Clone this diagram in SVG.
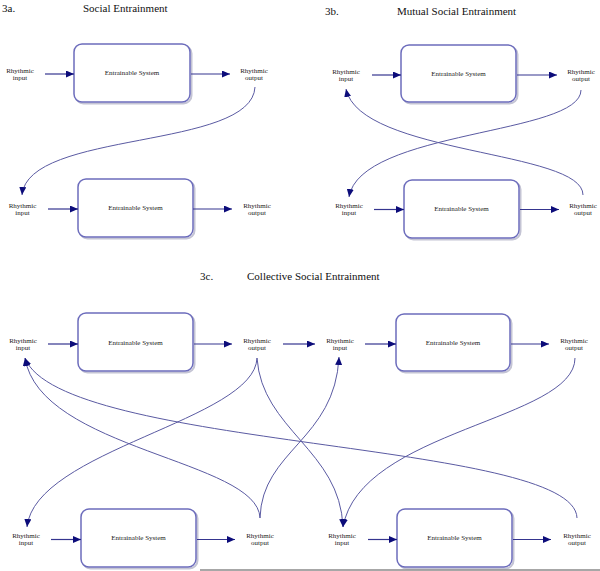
<svg xmlns="http://www.w3.org/2000/svg" width="600" height="571" viewBox="0 0 600 571">
<defs>
<marker id="ah" viewBox="0 0 8 7" refX="8" refY="3.5" markerWidth="8" markerHeight="7" markerUnits="userSpaceOnUse" orient="auto">
<path d="M0,0 L8,3.5 L0,7 z" fill="#0c0c7a"/>
</marker>
</defs>
<style>
.title{font-family:"Liberation Serif","Times New Roman",serif;font-size:11px;fill:#111}
.lbl{font-family:"Liberation Serif","Times New Roman",serif;font-size:7px;fill:#222;text-anchor:middle}
.box{fill:#fff;stroke:#6c6cbc;stroke-width:1.5}
.shadow{fill:none;stroke:#c4c4d4;stroke-width:2}
.arr{stroke:#35358f;stroke-width:1.2;fill:none;marker-end:url(#ah)}
.crv{stroke:#5a5aa2;stroke-width:1;fill:none;marker-end:url(#ah)}
</style>
<rect width="600" height="571" fill="#fff"/>
<g id="titles">
<text class="title" x="2" y="12">3a.</text>
<text class="title" x="83" y="12">Social Entrainment</text>
<text class="title" x="325" y="15">3b.</text>
<text class="title" x="397" y="15">Mutual Social Entrainment</text>
<text class="title" x="200" y="280">3c.</text>
<text class="title" x="247" y="280">Collective Social Entrainment</text>
</g>
<!-- 3a -->
<g id="a1-in"><text class="lbl" x="20" y="72.5">Rhythmic</text><text class="lbl" x="20" y="79.5">input</text></g>
<g id="a1-sys"><rect class="shadow" x="75.5" y="45.5" width="116" height="58" rx="8"/><rect class="box" x="74" y="44" width="116" height="58" rx="8"/><text class="lbl" x="132" y="75">Entrainable System</text></g>
<g id="a1-out"><text class="lbl" x="254" y="72.5">Rhythmic</text><text class="lbl" x="254" y="79.5">output</text></g>
<g id="a2-in"><text class="lbl" x="22.5" y="207.5">Rhythmic</text><text class="lbl" x="22.5" y="214.5">input</text></g>
<g id="a2-sys"><rect class="shadow" x="79.5" y="180.5" width="115" height="58" rx="8"/><rect class="box" x="78" y="179" width="115" height="58" rx="8"/><text class="lbl" x="135.5" y="210">Entrainable System</text></g>
<g id="a2-out"><text class="lbl" x="257" y="207.5">Rhythmic</text><text class="lbl" x="257" y="214.5">output</text></g>
<!-- 3b -->
<g id="b1-in"><text class="lbl" x="346" y="73.5">Rhythmic</text><text class="lbl" x="346" y="80.5">input</text></g>
<g id="b1-sys"><rect class="shadow" x="402.5" y="46.5" width="115" height="57" rx="8"/><rect class="box" x="401" y="45" width="115" height="57" rx="8"/><text class="lbl" x="458.5" y="76">Entrainable System</text></g>
<g id="b1-out"><text class="lbl" x="581" y="73.5">Rhythmic</text><text class="lbl" x="581" y="80.5">output</text></g>
<g id="b2-in"><text class="lbl" x="349" y="208">Rhythmic</text><text class="lbl" x="349" y="215">input</text></g>
<g id="b2-sys"><rect class="shadow" x="405.5" y="181.5" width="115" height="58" rx="8"/><rect class="box" x="404" y="180" width="115" height="58" rx="8"/><text class="lbl" x="461.5" y="210.5">Entrainable System</text></g>
<g id="b2-out"><text class="lbl" x="583" y="208">Rhythmic</text><text class="lbl" x="583" y="215">output</text></g>
<!-- 3c -->
<g id="c1-in"><text class="lbl" x="23" y="342.5">Rhythmic</text><text class="lbl" x="23" y="349.5">input</text></g>
<g id="c1-sys"><rect class="shadow" x="79.5" y="314.5" width="115" height="58" rx="8"/><rect class="box" x="78" y="313" width="115" height="58" rx="8"/><text class="lbl" x="135.5" y="345">Entrainable System</text></g>
<g id="c1-out"><text class="lbl" x="257" y="342.5">Rhythmic</text><text class="lbl" x="257" y="349.5">output</text></g>
<g id="c2-in"><text class="lbl" x="340" y="342.5">Rhythmic</text><text class="lbl" x="340" y="349.5">input</text></g>
<g id="c2-sys"><rect class="shadow" x="397.5" y="315.5" width="114" height="57" rx="8"/><rect class="box" x="396" y="314" width="114" height="57" rx="8"/><text class="lbl" x="453" y="345">Entrainable System</text></g>
<g id="c2-out"><text class="lbl" x="574" y="342.5">Rhythmic</text><text class="lbl" x="574" y="349.5">output</text></g>
<g id="c3-in"><text class="lbl" x="26" y="537.5">Rhythmic</text><text class="lbl" x="26" y="544.5">input</text></g>
<g id="c3-sys"><rect class="shadow" x="82.5" y="510.5" width="115" height="58" rx="8"/><rect class="box" x="81" y="509" width="115" height="58" rx="8"/><text class="lbl" x="138.5" y="540">Entrainable System</text></g>
<g id="c3-out"><text class="lbl" x="260" y="537.5">Rhythmic</text><text class="lbl" x="260" y="544.5">output</text></g>
<g id="c4-in"><text class="lbl" x="342" y="537.5">Rhythmic</text><text class="lbl" x="342" y="544.5">input</text></g>
<g id="c4-sys"><rect class="shadow" x="398.5" y="510.5" width="115" height="58" rx="8"/><rect class="box" x="397" y="509" width="115" height="58" rx="8"/><text class="lbl" x="454.5" y="540">Entrainable System</text></g>
<g id="c4-out"><text class="lbl" x="577" y="537.5">Rhythmic</text><text class="lbl" x="577" y="544.5">output</text></g>
<g id="connectors">
<path class="arr" d="M45,74 H74"/>
<path class="arr" d="M191,74 H230"/>
<path class="arr" d="M48,209 H78"/>
<path class="arr" d="M193,209 H232"/>
<path class="crv" d="M255,87 C252,150 28,130 22,195"/>
<path class="arr" d="M372,75 H401"/>
<path class="arr" d="M517,75 H557"/>
<path class="arr" d="M374,209.5 H404"/>
<path class="arr" d="M520,209.5 H559"/>
<path class="crv" d="M581,90 C581,135 360,130 349,197"/>
<path class="crv" d="M583,195 C583,150 360,155 346,89"/>
<path class="arr" d="M48,344 H78"/>
<path class="arr" d="M194,344 H232"/>
<path class="arr" d="M283,344 H315"/>
<path class="arr" d="M365,344 H396"/>
<path class="arr" d="M511,344 H549"/>
<path class="arr" d="M51,539.5 H81"/>
<path class="arr" d="M197,539.5 H235"/>
<path class="arr" d="M368,539.5 H397"/>
<path class="arr" d="M513,539.5 H551"/>
<path class="crv" d="M257,358 C255,420 35,450 27,527"/>
<path class="crv" d="M257,358 C262,430 340,450 343,527"/>
<path class="crv" d="M575,358 C575,420 360,430 343,527"/>
<path class="crv" d="M260,518 C258,460 40,450 25,358"/>
<path class="crv" d="M260,518 C262,450 335,440 339,357"/>
<path class="crv" d="M577,518 C575,440 60,450 25,358"/>
</g>
<line x1="200" y1="570" x2="600" y2="570" stroke="#8a8a8a" stroke-width="1.5"/>
</svg>
